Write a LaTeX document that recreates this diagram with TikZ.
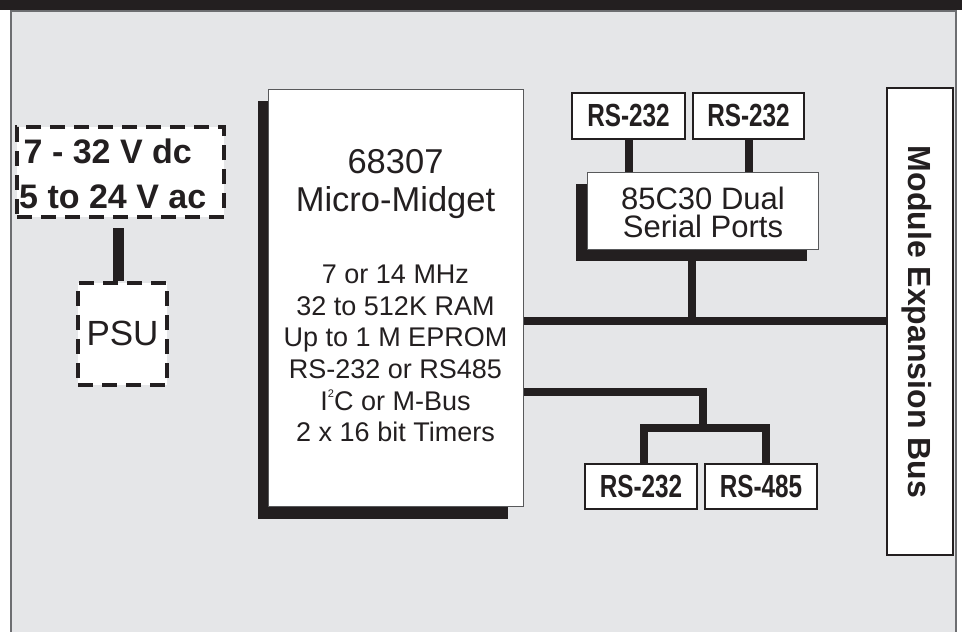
\documentclass[tikz,border=0pt]{standalone}
\usepackage{fontspec}
\setmainfont{Liberation Sans}
\usepackage{graphicx}
\usetikzlibrary{backgrounds}
\definecolor{ink}{HTML}{231F20}
\definecolor{panelgray}{HTML}{E5E6E8}
\definecolor{framegray}{HTML}{6D6E71}
\definecolor{edgegray}{HTML}{58595B}
\newcommand\portfont{\fontsize{32}{32}\selectfont\bfseries}
\newcommand\narrowtext[1]{\scalebox{0.76}[1]{#1}}
\newcommand\tinysup[1]{\raisebox{13pt}{\fontsize{11}{11}\selectfont #1}}
\begin{document}
\begin{tikzpicture}[x=1pt,y=-1pt,
  bus/.style={draw=ink,line width=8pt},
  feed/.style={draw=ink,line width=10.5pt},
  dashbox/.style={draw=ink,line width=4pt,dash pattern=on 15pt off 9pt,fill=white,inner sep=0pt},
  chip/.style={draw=edgegray,line width=1pt,fill=white,inner sep=0pt},
  port/.style={draw=ink,line width=2.5pt,fill=white,inner sep=0pt,minimum width=112pt,minimum height=45pt,font=\portfont,text=ink},
  txt/.style={text=ink,inner sep=0pt},
  shadowfill/.style={fill=ink},
]
\useasboundingbox (0,0) rectangle (962,632);

% power input and PSU
\node[dashbox,minimum width=207pt,minimum height=90pt] (dc) at (120.5,172) {};
\node[txt,anchor=base west,font=\fontsize{34}{34}\selectfont\bfseries] (dc1) at (23.5,163.3) {7 - 32 V dc};
\node[txt,anchor=base west,font=\fontsize{34}{34}\selectfont\bfseries] (dc2) at (19,208.3) {5 to 24 V ac};
\node[dashbox,minimum width=89pt,minimum height=102pt] (psu) at (122.5,334) {};
\node[txt,anchor=base,font=\fontsize{35}{35}\selectfont] (psut) at (122.5,345) {PSU};

% main processor
\node[chip,minimum width=255pt,minimum height=417pt] (mm) at (395.5,297.5) {};
\node[txt,anchor=base,font=\fontsize{34.5}{34.5}\selectfont] (mm1) at (395.5,173.3) {68307};
\node[txt,anchor=base,font=\fontsize{34.5}{34.5}\selectfont] (mm2) at (395.5,211.7) {Micro-Midget};
\foreach \t [count=\i] in {7 or 14 MHz, 32 to 512K RAM, Up to 1 M EPROM, RS-232 or RS485, I\tinysup{2}C or M-Bus, 2 x 16 bit Timers}
  \node[txt,anchor=base,font=\fontsize{27}{27}\selectfont] (spec\i) at (395.5,{283.5+(\i-1)*31.64}) {\t};

% dual serial
\node[chip,minimum width=231pt,minimum height=77pt] (sc) at (702.5,210.5) {};
\node[txt,anchor=base,font=\fontsize{31}{31}\selectfont] (sc1) at (703,209) {85C30 Dual};
\node[txt,anchor=base,font=\fontsize{31}{31}\selectfont] (sc2) at (703,237.5) {Serial Ports};

% ports
\node[port,minimum width=113pt,minimum height=46pt] (r1) at (628.5,116) {\narrowtext{RS-232}};
\node[port,minimum width=111pt,minimum height=46pt] (r2) at (748.5,116) {\narrowtext{RS-232}};
\node[port] (r3) at (641,486.5) {\narrowtext{RS-232}};
\node[port] (r4) at (761,486.5) {\narrowtext{RS-485}};

% module expansion bus
\node[draw=ink,line width=2.7pt,fill=white,inner sep=0pt,minimum width=66pt,minimum height=467pt] (mb) at (920,321.5) {};
\node[txt,rotate=-90,anchor=base,font=\fontsize{32}{32}\selectfont\bfseries] (mbt) at (908.5,322) {Module Expansion Bus};

% background, panel and shadows
\begin{scope}[on background layer]
  \fill[white] (0,0) rectangle (962,632);
  \fill[ink] (0,0) rectangle (962,9.5);
  \fill[panelgray] (10.5,10.5) rectangle (955.5,632);
  \draw[framegray,line width=2pt] (10.5,632) -- (10.5,10.5) -- (955.5,10.5) -- (955.5,632);
  \fill[shadowfill] ([xshift=-10pt,yshift=-12.5pt]mm.north west) rectangle ([xshift=-16pt,yshift=-12.5pt]mm.south east);
  \fill[shadowfill] ([xshift=-11pt,yshift=-12pt]sc.north west) rectangle ([xshift=-11.5pt,yshift=-11.5pt]sc.south east);
\end{scope}

% connectors
\coordinate (j1) at (692,320.5);
\coordinate (j2) at (703,392);
\coordinate (j3) at (703,428);
\coordinate (scfoot) at ([xshift=-11pt]sc.south);
\coordinate (dcfoot) at ([xshift=-2pt,yshift=-9pt]dc.south);
\draw[feed] (dcfoot) -- (dcfoot |- psu.north);
\draw[bus] (mm.east |- j1) -- (mb.west |- j1);
\draw[bus] (scfoot) -- (scfoot |- j1);
\draw[bus] (r1.south) -- (r1.south |- sc.north);
\draw[bus] (r2.south) -- (r2.south |- sc.north);
\draw[bus] (mm.east |- j2) -- (j2) -- (j3);
\draw[bus] ([xshift=3pt]r3.north) |- (j3) -| ([xshift=5pt]r4.north);
\end{tikzpicture}
\end{document}
